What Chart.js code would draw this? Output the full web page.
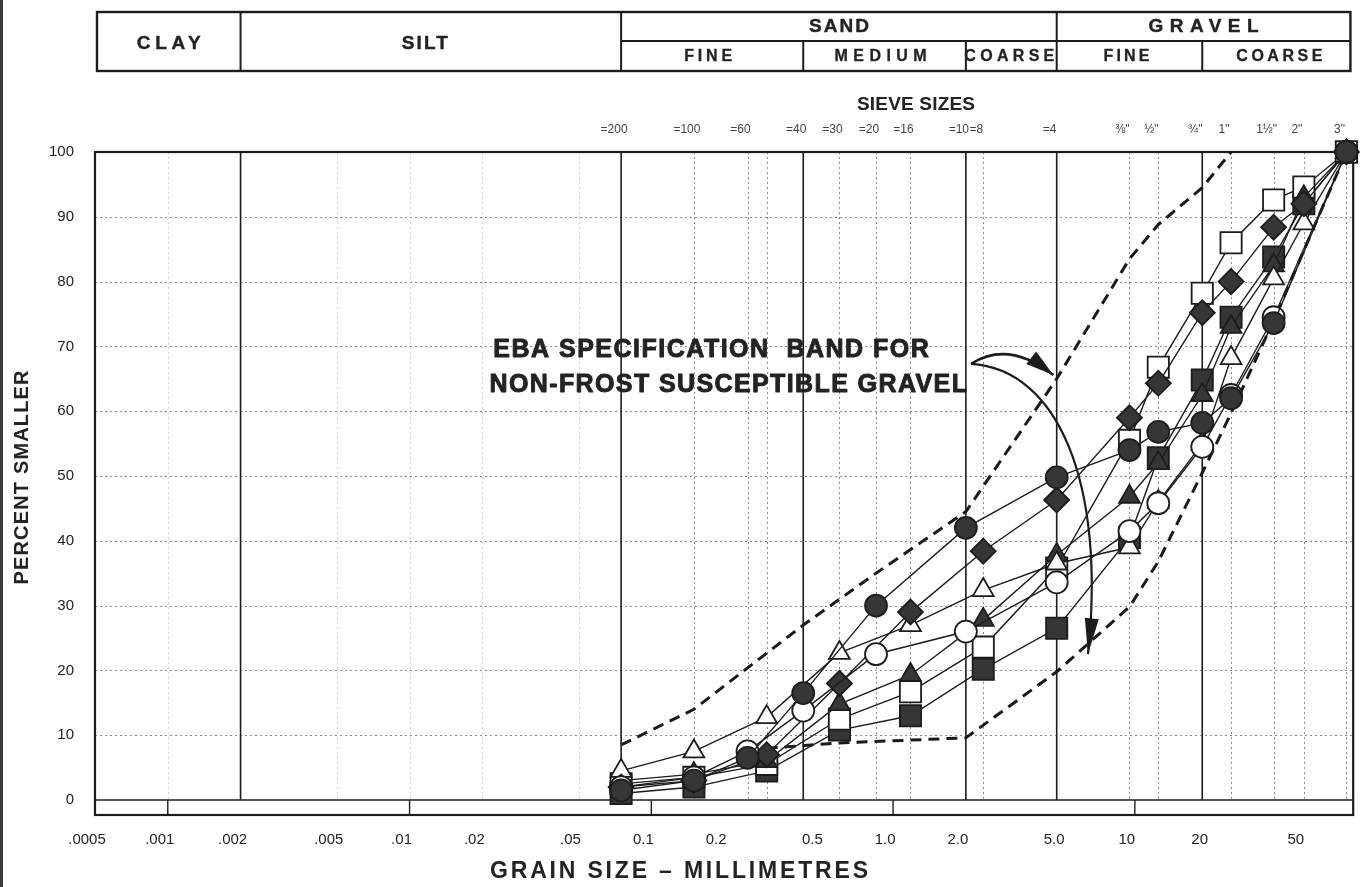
<!DOCTYPE html>
<html>
<head>
<meta charset="utf-8">
<script src="https://cdn.jsdelivr.net/npm/chart.js@4.4.1/dist/chart.umd.min.js"></script>
<style>
  html, body { margin: 0; padding: 0; background: #fff; }
  canvas { display: block; }
</style>
</head>
<body>
<canvas id="gradation" width="1370" height="887"></canvas>
<script>
// sieve openings in mm (circle samples use a different sieve set)
const sieveCircles = [0.075, 0.15, 0.25, 0.425, 0.85, 2.0, 4.75, 9.5, 12.5, 19, 25, 37.5, 75];
const sieveOthers = [0.075, 0.15, 0.3, 0.6, 1.18, 2.36, 4.75, 9.5, 12.5, 19, 25, 37.5, 50, 75];

// percent passing
const filledCirclePct = [1.5, 3, 6.5, 16.5, 30, 42, 49.8, 54, 56.8, 58.2, 62, 73.6, 100];
const openCirclePct = [2, 3.5, 7.5, 13.8, 22.5, 26, 33.6, 41.5, 45.8, 54.5, 62.5, 74.5, 100];
const filledDiamondPct = [2, 3, 7, 18, 29, 38.4, 46.3, 59, 64.3, 75.2, 80, 88.4, 92, 100];
const openTrianglePct = [4.5, 7.5, 12.8, 22.7, 27, 32.4, 36.5, 39, 46, 55, 68.2, 80.5, 89, 100];
const filledTrianglePct = [3, 4, 6, 14.8, 19.3, 27.8, 37.8, 46.8, 52, 62.5, 73, 82.5, 93, 100];
const openSquarePct = [2.5, 3.5, 5.5, 12.5, 16.7, 23.6, 35.8, 55.5, 66.8, 78.2, 86, 92.6, 94.6, 100];
const filledSquarePct = [1, 2, 4.5, 10.8, 13, 20.2, 26.5, 40.5, 52.8, 64.8, 74.5, 83.8, 92, 100];

// EBA specification band (dashed)
const upperBandSizes = [0.075, 0.15, 0.425, 0.85, 2.0, 4.75, 9.5, 12.5, 19, 25];
const upperBandPct = [8.5, 14, 27, 35, 44.5, 65, 83.5, 88.8, 94.5, 100];
const lowerBandSizes = [0.3, 0.6, 2.0, 4.75, 9.5, 12.5, 19, 25, 37.5, 75];
const lowerBandPct = [8, 8.8, 9.6, 19.8, 29.8, 36.8, 50.5, 59.7, 74, 100];

// axes
const grainTicks = [0.0005, 0.001, 0.002, 0.005, 0.01, 0.02, 0.05, 0.1, 0.2, 0.5, 1, 2, 5, 10, 20, 50];
const grainLabels = ['.0005', '.001', '.002', '.005', '.01', '.02', '.05', '0.1', '0.2', '0.5', '1.0', '2.0', '5.0', '10', '20', '50'];
const sieveTicks = [0.075, 0.15, 0.25, 0.425, 0.6, 0.85, 1.18, 2.0, 2.36, 4.75, 9.5, 12.5, 19, 25, 37.5, 50, 75];
const sieveLabels = ['=200', '=100', '=60', '=40', '=30', '=20', '=16', '=10', '=8', '=4', '⅜"', '½"', '¾"', '1"', '1½"', '2"', '3"'];
const percentTicks = [0, 10, 20, 30, 40, 50, 60, 70, 80, 90, 100];

// soil classes: clay | silt | sand (fine, medium, coarse) | gravel (fine, coarse)
const classBounds = [0.002, 0.075, 0.425, 2.0, 4.75, 19];
const dottedSands = [0.15, 0.25, 0.3, 0.6, 0.85, 1.18, 2.36, 9.5, 12.5, 25, 37.5, 50, 75];
const dottedFines = [0.001, 0.005, 0.01, 0.02, 0.05];
const decadeMarks = [0.001, 0.01, 0.1, 1, 10];

const FONT = '"Liberation Sans", Arial, Helvetica, sans-serif';
const INK = '#232323';

function pts(xs, ys) {
    return xs.map((x, i) => ({ x: x, y: ys[i] }));
}

function serie(label, xs, ys, shape, filled, radius) {
    return {
        label: label,
        data: pts(xs, ys),
        showLine: true,
        borderColor: '#1c1c1c',
        borderWidth: 1.4,
        pointStyle: shape,
        pointRadius: radius,
        pointBorderWidth: 1.8,
        pointBorderColor: '#1c1c1c',
        pointBackgroundColor: filled ? '#363636' : '#ffffff',
        clip: false,
        order: 1
    };
}

function band(label, xs, ys) {
    return {
        label: label,
        data: pts(xs, ys),
        showLine: true,
        borderColor: '#1a1a1a',
        borderWidth: 3,
        borderDash: [11, 7],
        pointRadius: 0,
        clip: false,
        order: 10
    };
}

const datasets = [
    band('upper band', upperBandSizes, upperBandPct),
    band('lower band', lowerBandSizes, lowerBandPct),
    serie('filled circle', sieveCircles, filledCirclePct, 'circle', true, 11),
    serie('open circle', sieveCircles, openCirclePct, 'circle', false, 11),
    serie('filled diamond', sieveOthers, filledDiamondPct, 'rectRot', true, 12.5),
    serie('open triangle', sieveOthers, openTrianglePct, 'triangle', false, 12),
    serie('filled triangle', sieveOthers, filledTrianglePct, 'triangle', true, 12),
    serie('open square', sieveOthers, openSquarePct, 'rect', false, 15),
    serie('filled square', sieveOthers, filledSquarePct, 'rect', true, 15)
];

// text stretched to a given width through letter spacing
function spacedText(ctx, text, cx, cy, width, font, heavy) {
    ctx.save();
    ctx.font = font;
    ctx.fillStyle = INK;
    ctx.strokeStyle = INK;
    ctx.textBaseline = 'middle';
    ctx.textAlign = 'left';
    ctx.letterSpacing = '0px';
    const natural = ctx.measureText(text).width;
    ctx.letterSpacing = ((width - natural) / (text.length - 1)) + 'px';
    ctx.fillText(text, cx - width / 2, cy);
    if (heavy) {
        ctx.lineWidth = heavy;
        ctx.lineJoin = 'round';
        ctx.strokeText(text, cx - width / 2, cy);
    }
    ctx.restore();
}

function vline(ctx, x, y1, y2) {
    ctx.beginPath();
    ctx.moveTo(x, y1);
    ctx.lineTo(x, y2);
    ctx.stroke();
}

function hline(ctx, x1, x2, y) {
    ctx.beginPath();
    ctx.moveTo(x1, y);
    ctx.lineTo(x2, y);
    ctx.stroke();
}

const gridPlugin = {
    id: 'gradationGrid',
    beforeDatasetsDraw(chart) {
        const { ctx, chartArea: a, scales: { x, y } } = chart;
        const y0 = y.getPixelForValue(0);
        ctx.save();
        ctx.lineWidth = 1;
        ctx.setLineDash([2, 3]);
        ctx.strokeStyle = '#8a8a8a';
        percentTicks.slice(1, -1).forEach(p => hline(ctx, a.left, a.right, Math.round(y.getPixelForValue(p)) + 0.5));
        dottedSands.forEach(d => vline(ctx, Math.round(x.getPixelForValue(d)) + 0.5, a.top, y0));
        ctx.strokeStyle = '#cfcfcf';
        dottedFines.forEach(d => vline(ctx, Math.round(x.getPixelForValue(d)) + 0.5, a.top, y0));

        ctx.setLineDash([]);
        ctx.strokeStyle = '#1c1c1c';
        ctx.lineWidth = 1.6;
        classBounds.forEach(d => vline(ctx, x.getPixelForValue(d), a.top, y0));
        hline(ctx, a.left, a.right, y0);
        ctx.lineWidth = 1.4;
        decadeMarks.forEach(d => vline(ctx, x.getPixelForValue(d), y0, a.bottom));
        ctx.lineWidth = 2.2;
        ctx.strokeRect(a.left, a.top, a.right - a.left, a.bottom - a.top);
        ctx.restore();
    }
};

function arrowHead(ctx, tip, from, len, half) {
    const ang = Math.atan2(tip[1] - from[1], tip[0] - from[0]);
    const bx = tip[0] - Math.cos(ang) * len, by = tip[1] - Math.sin(ang) * len;
    ctx.beginPath();
    ctx.moveTo(tip[0], tip[1]);
    ctx.lineTo(bx - Math.sin(ang) * half, by + Math.cos(ang) * half);
    ctx.lineTo(bx + Math.sin(ang) * half, by - Math.cos(ang) * half);
    ctx.closePath();
    ctx.fill();
}

const decorPlugin = {
    id: 'gradationDecor',
    afterDraw(chart) {
        const { ctx, chartArea: a, scales: { x, y } } = chart;
        const P = (mm, pct) => [x.getPixelForValue(mm), y.getPixelForValue(pct)];
        ctx.save();

        // scan edge on the left
        ctx.fillStyle = '#3a3a3a';
        ctx.fillRect(0, 0, 3, chart.height);

        // soil classification header
        const top = 12, mid = 41, bot = 71;
        const L = a.left + 2, R = x.getPixelForValue(75) + 4;
        const bx = classBounds.map(d => x.getPixelForValue(d));
        ctx.strokeStyle = '#1c1c1c';
        ctx.lineWidth = 2.4;
        ctx.strokeRect(L, top, R - L, bot - top);
        ctx.lineWidth = 2;
        hline(ctx, bx[1], R, mid);
        vline(ctx, bx[0], top, bot);
        vline(ctx, bx[1], top, bot);
        vline(ctx, bx[4], top, bot);
        vline(ctx, bx[2], mid, bot);
        vline(ctx, bx[3], mid, bot);
        vline(ctx, bx[5], mid, bot);
        const big = 'bold 19px ' + FONT, small = 'bold 16px ' + FONT;
        spacedText(ctx, 'CLAY', (L + bx[0]) / 2, 44, 64, big, 0.4);
        spacedText(ctx, 'SILT', (bx[0] + bx[1]) / 2 - 6, 44, 46, big, 0.4);
        spacedText(ctx, 'SAND', (bx[1] + bx[4]) / 2, 27, 60, big, 0.4);
        spacedText(ctx, 'GRAVEL', (bx[4] + R) / 2, 27, 110, big, 0.4);
        spacedText(ctx, 'FINE', (bx[1] + bx[2]) / 2 - 4, 57, 48, small, 0.3);
        spacedText(ctx, 'MEDIUM', (bx[2] + bx[3]) / 2 - 4, 57, 92, small, 0.3);
        spacedText(ctx, 'COARSE', (bx[3] + bx[4]) / 2 - 2, 57, 90, small, 0.3);
        spacedText(ctx, 'FINE', (bx[4] + bx[5]) / 2 - 3, 57, 46, small, 0.3);
        spacedText(ctx, 'COARSE', (bx[5] + R) / 2 + 3, 57, 86, small, 0.3);

        spacedText(ctx, 'SIEVE SIZES', 916, 105, 118, 'bold 19px ' + FONT);
        spacedText(ctx, 'GRAIN SIZE – MILLIMETRES', 679, 872, 378, 'bold 23px ' + FONT);

        ctx.save();
        ctx.translate(22, (a.top + a.bottom) / 2 - 6);
        ctx.rotate(-Math.PI / 2);
        spacedText(ctx, 'PERCENT SMALLER', 0, 0, 214, 'bold 20px ' + FONT);
        ctx.restore();

        // band annotation
        const line1 = P(0.0222, 69.4), end1 = P(1.405, 69.4);
        const line2 = P(0.0214, 64.0), end2 = P(2.02, 64.0);
        const note = 'bold 25px ' + FONT;
        spacedText(ctx, 'EBA SPECIFICATION  BAND FOR', (line1[0] + end1[0]) / 2, line1[1], end1[0] - line1[0], note, 0.9);
        spacedText(ctx, 'NON-FROST SUSCEPTIBLE GRAVEL', (line2[0] + end2[0]) / 2, line2[1], end2[0] - line2[0], note, 0.9);

        ctx.strokeStyle = '#1c1c1c';
        ctx.fillStyle = '#1c1c1c';
        ctx.lineWidth = 2.6;
        const s = P(2.1, 67.3);
        const c1 = P(3.0, 71), e1 = P(4.6, 65.6);
        ctx.beginPath();
        ctx.moveTo(s[0], s[1]);
        ctx.quadraticCurveTo(c1[0], c1[1], e1[0], e1[1]);
        ctx.stroke();
        arrowHead(ctx, e1, c1, 28, 8);

        const k1 = P(4.8, 66.5), k2 = P(7.6, 49), e2 = P(6.4, 22.5);
        ctx.lineWidth = 2.2;
        ctx.beginPath();
        ctx.moveTo(s[0], s[1]);
        ctx.bezierCurveTo(k1[0], k1[1], k2[0], k2[1], e2[0], e2[1]);
        ctx.stroke();
        arrowHead(ctx, e2, k2, 36, 7);

        ctx.restore();
    }
};

const tickFont = { family: FONT, size: 15 };

const chart = new Chart(document.getElementById('gradation').getContext('2d'), {
    type: 'scatter',
    data: { datasets: datasets },
    options: {
        responsive: false,
        animation: false,
        layout: { padding: { left: 0, right: 15, top: 0, bottom: 0 } },
        plugins: { legend: { display: false }, tooltip: { enabled: false } },
        scales: {
            x: {
                type: 'logarithmic',
                position: 'bottom',
                min: 0.0005,
                max: 80,
                afterBuildTicks: s => { s.ticks = grainTicks.map(v => ({ value: v })); },
                afterFit: s => { s.height = 72; },
                ticks: {
                    autoSkip: false, maxRotation: 0, minRotation: 0, padding: 8, labelOffset: -8,
                    color: INK, font: tickFont,
                    callback: (v, i) => grainLabels[i]
                },
                grid: { display: false },
                border: { display: false }
            },
            sieve: {
                type: 'logarithmic',
                position: 'top',
                min: 0.0005,
                max: 80,
                afterBuildTicks: s => { s.ticks = sieveTicks.map(v => ({ value: v })); },
                afterFit: s => { s.height = 152; },
                ticks: {
                    autoSkip: false, maxRotation: 0, minRotation: 0, padding: 7, labelOffset: -7,
                    color: '#444', font: { family: FONT, size: 12 },
                    callback: (v, i) => sieveLabels[i]
                },
                grid: { display: false },
                border: { display: false }
            },
            y: {
                type: 'linear',
                min: -2.31,
                max: 100,
                afterBuildTicks: s => { s.ticks = percentTicks.map(v => ({ value: v })); },
                afterFit: s => { s.width = 95; },
                ticks: { padding: 13, color: INK, font: tickFont },
                grid: { display: false },
                border: { display: false }
            }
        }
    },
    plugins: [gridPlugin, decorPlugin]
});
</script>
</body>
</html>
